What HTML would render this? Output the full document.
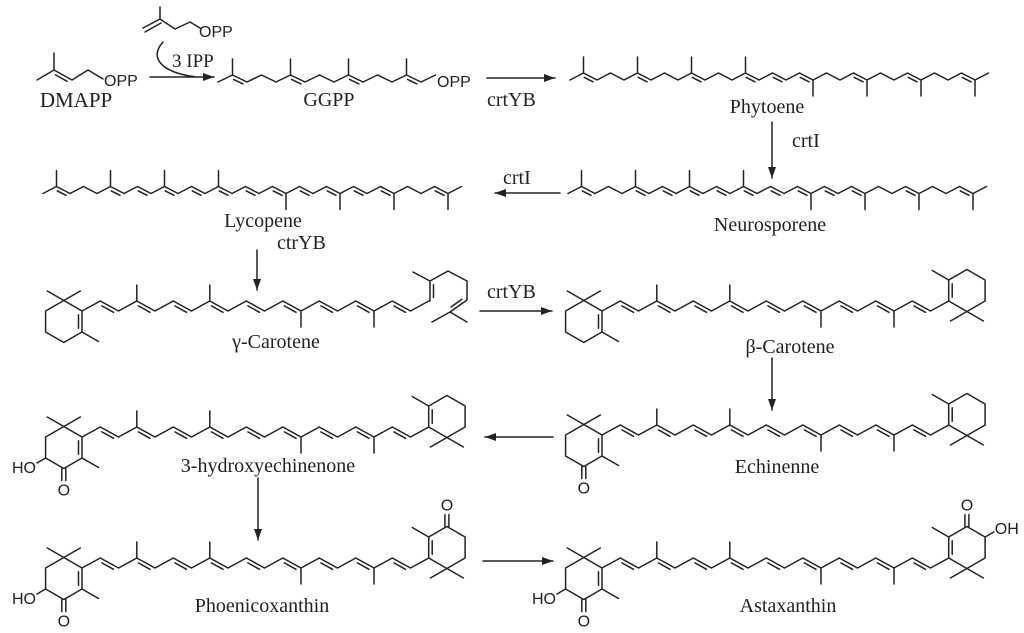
<!DOCTYPE html>
<html><head><meta charset="utf-8">
<style>
html,body{margin:0;padding:0;background:#fff;}
svg{display:block;}
.s{font-family:"Liberation Serif",serif;font-size:20px;fill:#222;}
.a{font-family:"Liberation Sans",sans-serif;font-size:16px;fill:#222;}
</style></head>
<body>
<svg id="g" width="1024" height="633" viewBox="0 0 1024 633" xmlns="http://www.w3.org/2000/svg">
<rect width="1024" height="633" fill="#fff"/>
<path id="bonds" d="" fill="none" stroke="#222" stroke-width="1.5" stroke-linecap="round" stroke-linejoin="round"/>
<g id="heads" fill="#222"></g>
<text class="a" x="104" y="86">OPP</text>
<text class="a" x="199" y="37">OPP</text>
<text class="a" x="437" y="87">OPP</text>
<text class="s" x="76" y="107" text-anchor="middle" style="font-size:21px">DMAPP</text>
<text class="s" x="172" y="67" style="font-size:19px">3 IPP</text>
<text class="s" x="329" y="106" text-anchor="middle">GGPP</text>
<text class="s" x="487" y="106">crtYB</text>
<text class="s" x="767" y="113" text-anchor="middle">Phytoene</text>
<text class="s" x="792" y="147">crtI</text>
<text class="s" x="503" y="184">crtI</text>
<text class="s" x="263" y="227" text-anchor="middle">Lycopene</text>
<text class="s" x="277" y="249">ctrYB</text>
<text class="s" x="770" y="231" text-anchor="middle">Neurosporene</text>
<text class="s" x="487" y="298">crtYB</text>
<text class="s" x="276" y="348" text-anchor="middle">γ-Carotene</text>
<text class="s" x="790" y="353" text-anchor="middle">β-Carotene</text>
<text class="s" x="268" y="472" text-anchor="middle">3-hydroxyechinenone</text>
<text class="s" x="777" y="473" text-anchor="middle">Echinenne</text>
<text class="s" x="262" y="612" text-anchor="middle">Phoenicoxanthin</text>
<text class="s" x="788" y="612" text-anchor="middle">Astaxanthin</text>
<g id="atoms" class="a"></g>
</svg>
<script>
var L=[];var H=[];var T=[];
function ln(a,b,c,d){L.push('M'+a.toFixed(1)+' '+b.toFixed(1)+'L'+c.toFixed(1)+' '+d.toFixed(1));}
function dbl(p,q,tx,ty){
 var dx=q[0]-p[0],dy=q[1]-p[1],len=Math.hypot(dx,dy);var nx=-dy/len,ny=dx/len;
 if(tx!==undefined){var mx=(p[0]+q[0])/2,my=(p[1]+q[1])/2;if(nx*(tx-mx)+ny*(ty-my)<0){nx=-nx;ny=-ny;}}
 else if(ny<0||(ny==0&&nx>0)){nx=-nx;ny=-ny;}
 var o=3.5,s=0.18;ln(p[0]+dx*s+nx*o,p[1]+dy*s+ny*o,q[0]-dx*s+nx*o,q[1]-dy*s+ny*o);}
function chain(x0,base,step,amp,n,me,db){var v=[];for(var i=0;i<=n;i++){var hi=(i%2==1);v.push([x0+i*step,base+(hi?-amp:amp)]);}
 for(i=0;i<n;i++)ln(v[i][0],v[i][1],v[i+1][0],v[i+1][1]);
 me.forEach(function(i){var hi=v[i][1]<base;ln(v[i][0],v[i][1],v[i][0],v[i][1]+(hi?-16:16));});
 db.forEach(function(i){dbl(v[i],v[i+1]);});return v;}
function arrow(x1,y1,x2,y2){ln(x1,y1,x2,y2);var dx=x2-x1,dy=y2-y1,l=Math.hypot(dx,dy);dx/=l;dy/=l;
 var bx=x2-dx*11,by=y2-dy*11;H.push('<polygon points="'+x2+','+y2+' '+(bx-dy*4)+','+(by+dx*4)+' '+(bx+dy*4)+','+(by-dx*4)+'"/>');}
function txt(x,y,s,anc){T.push('<text x="'+x+'" y="'+y+'"'+(anc?' text-anchor="'+anc+'"':'')+'>'+s+'</text>');}
function ring(c6,right,keto,oh){var r=21,sg=right?-1:1;
 var cx=c6[0]-sg*0.866*r,cy=c6[1]+sg*0.5*r;var P=[];
 for(var k=0;k<6;k++){var a=k*Math.PI/3;P.push([cx+sg*r*Math.sin(a),cy-sg*r*Math.cos(a)]);}
 for(k=0;k<6;k++)ln(P[k][0],P[k][1],P[(k+1)%6][0],P[(k+1)%6][1]);
 dbl(P[1],P[2],cx,cy);
 function out(k,len,rot){var dx=P[k][0]-cx,dy=P[k][1]-cy,l=Math.hypot(dx,dy);dx/=l;dy/=l;rot=rot||0;
  var c=Math.cos(rot),s=Math.sin(rot);return [P[k][0]+(dx*c-dy*s)*len,P[k][1]+(dx*s+dy*c)*len];}
 var m=out(0,19,1.05);ln(P[0][0],P[0][1],m[0],m[1]);m=out(0,19,-1.05);ln(P[0][0],P[0][1],m[0],m[1]);
 m=out(2,19,0);ln(P[2][0],P[2][1],m[0],m[1]);
 if(keto){var e=out(3,12,0);ln(P[3][0]-2,P[3][1],e[0]-2,e[1]);ln(P[3][0]+2,P[3][1],e[0]+2,e[1]);
  txt(P[3][0],right?P[3][1]-16:P[3][1]+27,'O','middle');}
 if(oh){var e2=out(4,10,0);ln(P[4][0],P[4][1],e2[0],e2[1]);
  if(right)txt(e2[0]+1,e2[1]+2,'OH');else txt(e2[0]-1,e2[1]+10,'HO','end');}
 return P;}
function carot(x0,base,lk,loh,rplain,rk,roh){var v=chain(x0,base,18.25,5,19,[3,7,12,16],[1,3,5,7,9,11,13,15,17]);
 ring(v[0],false,lk,loh);if(rplain!==null)ring(v[19],true,rk,roh);return v;}
var d=[[37,80],[54,70],[72,80],[88,70],[103,79]];for(var i=0;i<4;i++)ln(d[i][0],d[i][1],d[i+1][0],d[i+1][1]);
ln(54,70,54,53);dbl(d[1],d[2]);
ln(143,28,160,19);ln(145,32,161,23);ln(160,19,160,7);ln(160,19,175,29);ln(175,29,190,22);ln(190,22,200,28);
L.push('M163 42 C150 56 158 72 196 77');
arrow(150,77,214,77);
chain(218,78.5,14.5,3.5,15,[1,5,9,13],[1,5,9,13]);
arrow(487,78,555,78);
chain(570,76.5,13.5,3.5,31,[1,5,9,13,18,22,26,30],[1,5,9,13,15,17,21,25,29]);
arrow(772,122,772,178);
chain(43,190,13.5,3.5,31,[1,5,9,13,18,22,26,30],[1,5,7,9,11,13,15,17,19,21,23,25,29]);
chain(568,190,13.5,3.5,31,[1,5,9,13,18,22,26,30],[1,5,7,9,11,13,15,17,19,21,25,29]);
arrow(560,193,495,193);
arrow(257,250,257,290);
carot(82,306,false,false,null);
var g=[[430,301],[430,281],[448,271],[467,281],[467,300],[450,312]];
for(i=0;i<5;i++)ln(g[i][0],g[i][1],g[i+1][0],g[i+1][1]);
dbl(g[0],g[1],445,291);ln(430,281,413,272);dbl(g[4],g[5],455,300);ln(450,312,432,322);ln(450,312,467,322);
arrow(480,311,552,311);
carot(602,306,false,false,1,false,false);
arrow(772,358,772,410);
carot(82,432,true,true,1,false,false);
carot(602,430,true,false,1,false,false);
arrow(553,437,485,437);
arrow(258,478,258,540);
carot(82,563,true,true,1,true,false);
carot(602,563,true,true,1,true,true);
arrow(483,561,553,561);
document.getElementById('bonds').setAttribute('d',L.join(''));
document.getElementById('heads').innerHTML=H.join('');
document.getElementById('atoms').innerHTML=T.join('');
</script>
</body></html>
